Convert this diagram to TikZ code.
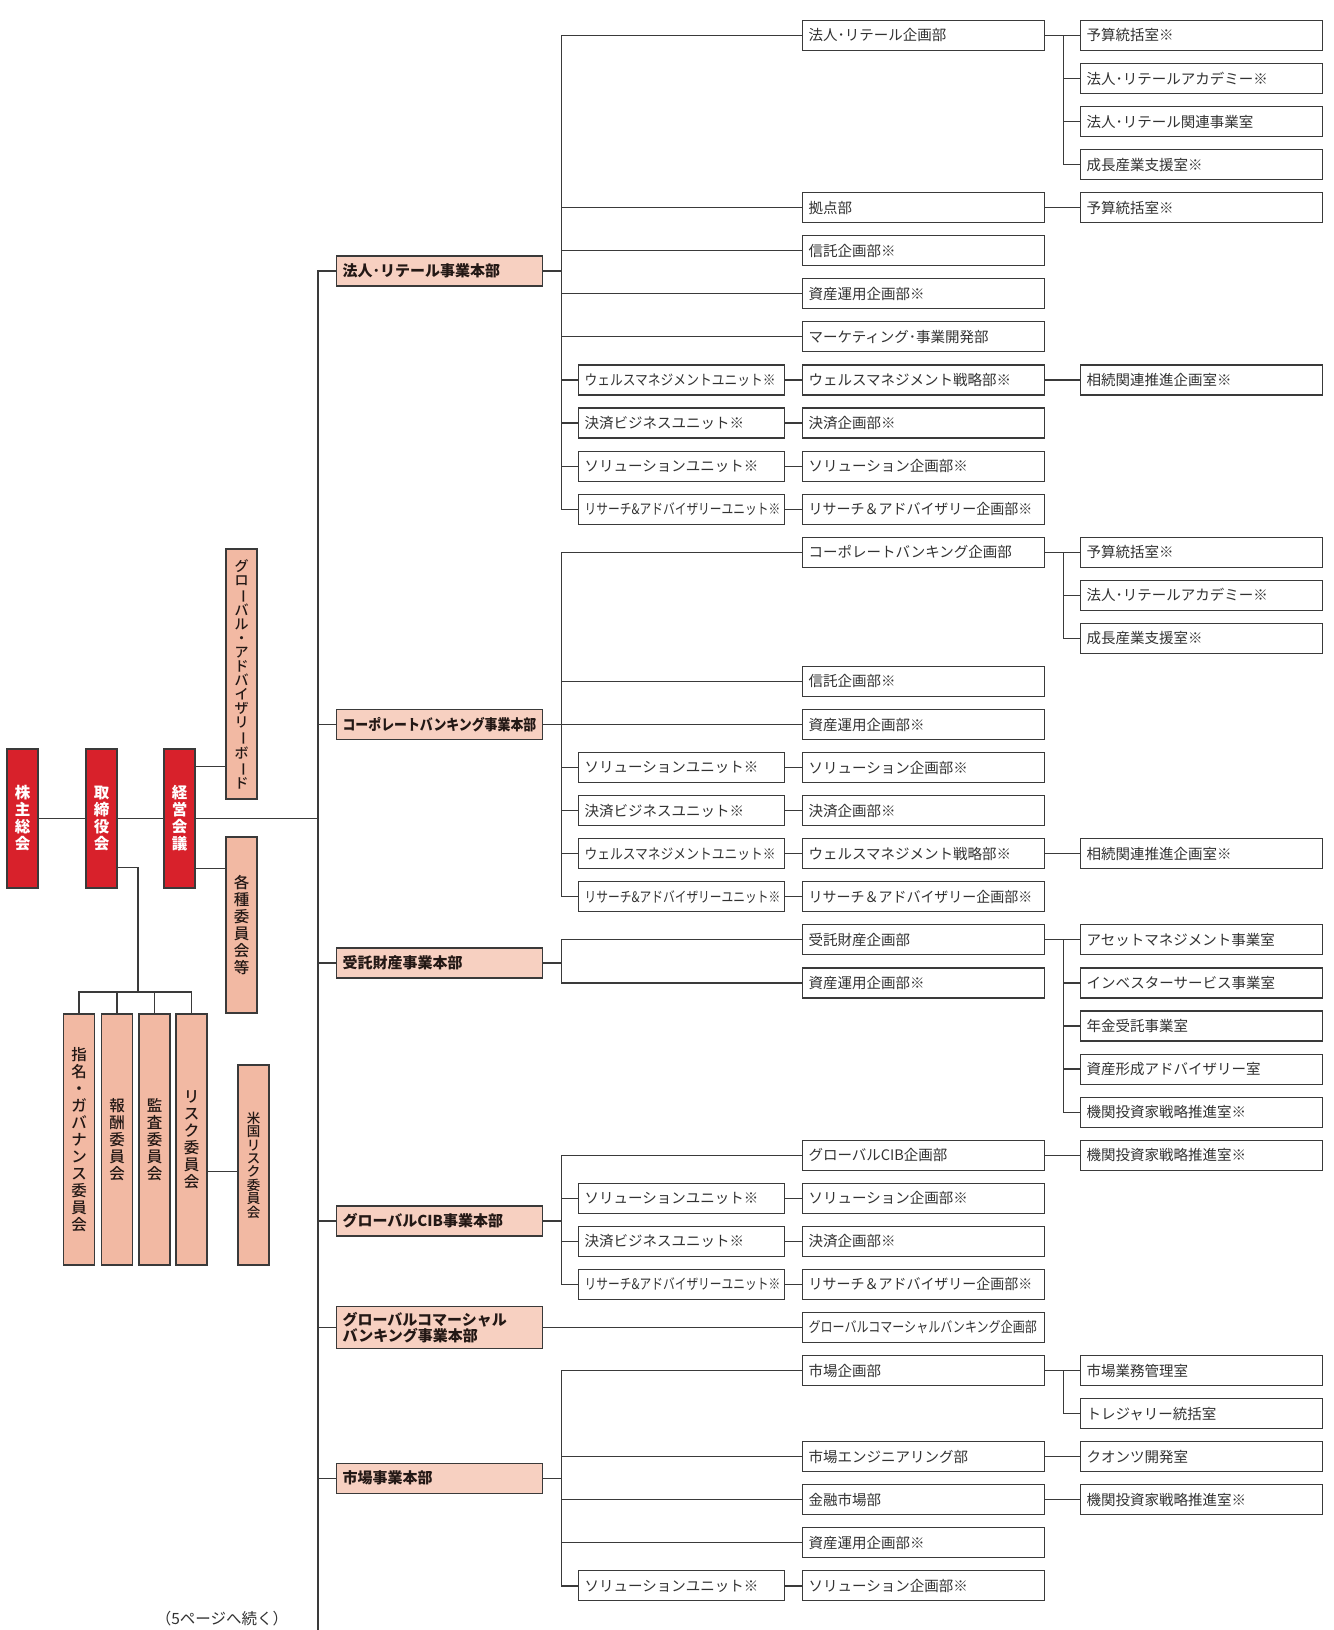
\documentclass[tikz,border=0pt]{standalone}
\usepackage{fontspec}
\usepackage{graphicx}
\setmainfont{Noto Sans CJK JP}
\newfontfamily\medfont{Noto Sans CJK JP Medium}
\usetikzlibrary{calc}
\definecolor{redbox}{RGB}{216,33,43}
\definecolor{salmon}{RGB}{242,185,163}
\definecolor{divfill}{RGB}{247,208,193}
\definecolor{linegray}{RGB}{58,58,58}
\definecolor{textgray}{RGB}{50,50,50}
\definecolor{inkdark}{RGB}{35,24,21}
% vertical position of a row of boxes
\newcommand\ry[1]{35.4+43.07*#1}
% prolonged sound mark in vertical writing
\newcommand\tatebar{\rotatebox[origin=c]{-90}{ー}}
\tikzset{
  conn/.style={draw=linegray, line width=1.2pt},
  orgbox/.style={draw=linegray, line width=1.1pt, fill=white, anchor=west,
    minimum height=30pt, inner xsep=6pt, inner ysep=0pt, align=left,
    text=textgray, font=\fontsize{14.5}{16}\selectfont},
  midbox/.style={orgbox, text width=230pt},
  rightbox/.style={orgbox, text width=230pt},
  unitbox/.style={orgbox, text width=194pt},
  divbox/.style={orgbox, fill=divfill, text width=194pt, text=inkdark,
    font=\bfseries\fontsize{15}{16.5}\selectfont},
  vbox/.style={draw=linegray, line width=1.1pt, minimum width=31pt, inner sep=0pt,
    align=center, font=\medfont\fontsize{15.5}{17}\selectfont},
  redv/.style={vbox, fill=redbox, text=white, minimum height=139pt,
    font=\bfseries\fontsize{15.5}{17}\selectfont},
  comv/.style={vbox, fill=salmon, text=inkdark},
}
\begin{document}
\begin{tikzpicture}[x=1pt, y=-1pt]
\useasboundingbox[fill=white] (0,0) rectangle (1333,1630);

% ---------- governance (vertical boxes) ----------
\node[redv] (kabu) at (22.5,818.5) {株\\主\\総\\会};
\node[redv] (tori) at (101.5,818.5) {取\\締\\役\\会};
\node[redv] (keiei) at (179.5,818.5) {経\\営\\会\\議};
\node[comv, minimum height=250pt, font=\medfont\fontsize{14}{14}\selectfont] (adv) at (241.5,674)
  {グ\\ロ\\\tatebar\\バ\\ル\\・\\ア\\ド\\バ\\イ\\ザ\\リ\\\tatebar\\ボ\\\tatebar\\ド};
\node[comv, minimum height=176pt] (kakushu) at (241.5,925) {各\\種\\委\\員\\会\\等};
\node[comv, minimum height=251pt] (c1) at (79,1139.5) {指\\名\\・\\ガ\\バ\\ナ\\ン\\ス\\委\\員\\会};
\node[comv, minimum height=251pt] (c2) at (117,1139.5) {報\\酬\\委\\員\\会};
\node[comv, minimum height=251pt] (c3) at (154.5,1139.5) {監\\査\\委\\員\\会};
\node[comv, minimum height=251pt] (c4) at (191.5,1139.5) {リ\\ス\\ク\\委\\員\\会};
\node[comv, minimum height=200pt, font=\medfont\fontsize{13.5}{13.4}\selectfont] (us) at (253.5,1165)
  {米\\国\\リ\\ス\\ク\\委\\員\\会};

% ---------- business divisions ----------
\node[divbox] (d1) at (336,271) {法人･リテール事業本部};
\node[divbox] (d2) at (336,{\ry{16}}) {\scalebox{0.86}[1]{コーポレートバンキング事業本部}};
\node[divbox] (d3) at (336,963) {受託財産事業本部};
\node[divbox] (d4) at (336,1221) {グローバルCIB事業本部};
\node[divbox, minimum height=42pt] (d5) at (336,{\ry{30}}) {グローバルコマーシャル\\バンキング事業本部};
\node[divbox] (d6) at (336,{\ry{33.5}}) {市場事業本部};

% ---------- units ----------
\node[unitbox] (u8)  at (578,{\ry{8}})  {\scalebox{0.88}[1]{ウェルスマネジメントユニット※}};
\node[unitbox] (u9)  at (578,{\ry{9}})  {決済ビジネスユニット※};
\node[unitbox] (u10) at (578,{\ry{10}}) {ソリューションユニット※};
\node[unitbox] (u11) at (578,{\ry{11}}) {\scalebox{0.81}[1]{リサーチ\&アドバイザリーユニット※}};
\node[unitbox] (u17) at (578,{\ry{17}}) {ソリューションユニット※};
\node[unitbox] (u18) at (578,{\ry{18}}) {決済ビジネスユニット※};
\node[unitbox] (u19) at (578,{\ry{19}}) {\scalebox{0.88}[1]{ウェルスマネジメントユニット※}};
\node[unitbox] (u20) at (578,{\ry{20}}) {\scalebox{0.81}[1]{リサーチ\&アドバイザリーユニット※}};
\node[unitbox] (u27) at (578,{\ry{27}}) {ソリューションユニット※};
\node[unitbox] (u28) at (578,{\ry{28}}) {決済ビジネスユニット※};
\node[unitbox] (u29) at (578,{\ry{29}}) {\scalebox{0.81}[1]{リサーチ\&アドバイザリーユニット※}};
\node[unitbox] (u36) at (578,{\ry{36}}) {ソリューションユニット※};

% ---------- departments ----------
\node[midbox] (m0)  at (802,{\ry{0}})  {法人･リテール企画部};
\node[midbox] (m4)  at (802,{\ry{4}})  {拠点部};
\node[midbox] (m5)  at (802,{\ry{5}})  {信託企画部※};
\node[midbox] (m6)  at (802,{\ry{6}})  {資産運用企画部※};
\node[midbox] (m7)  at (802,{\ry{7}})  {マーケティング･事業開発部};
\node[midbox] (m8)  at (802,{\ry{8}})  {ウェルスマネジメント戦略部※};
\node[midbox] (m9)  at (802,{\ry{9}})  {決済企画部※};
\node[midbox] (m10) at (802,{\ry{10}}) {ソリューション企画部※};
\node[midbox] (m11) at (802,{\ry{11}}) {\scalebox{0.965}[1]{リサーチ＆アドバイザリー企画部※}};
\node[midbox] (m12) at (802,{\ry{12}}) {コーポレートバンキング企画部};
\node[midbox] (m15) at (802,{\ry{15}}) {信託企画部※};
\node[midbox] (m16) at (802,{\ry{16}}) {資産運用企画部※};
\node[midbox] (m17) at (802,{\ry{17}}) {ソリューション企画部※};
\node[midbox] (m18) at (802,{\ry{18}}) {決済企画部※};
\node[midbox] (m19) at (802,{\ry{19}}) {ウェルスマネジメント戦略部※};
\node[midbox] (m20) at (802,{\ry{20}}) {\scalebox{0.965}[1]{リサーチ＆アドバイザリー企画部※}};
\node[midbox] (m21) at (802,{\ry{21}}) {受託財産企画部};
\node[midbox] (m22) at (802,{\ry{22}}) {資産運用企画部※};
\node[midbox] (m26) at (802,{\ry{26}}) {グローバルCIB企画部};
\node[midbox] (m27) at (802,{\ry{27}}) {ソリューション企画部※};
\node[midbox] (m28) at (802,{\ry{28}}) {決済企画部※};
\node[midbox] (m29) at (802,{\ry{29}}) {\scalebox{0.965}[1]{リサーチ＆アドバイザリー企画部※}};
\node[midbox] (m30) at (802,{\ry{30}}) {\scalebox{0.83}[1]{グローバルコマーシャルバンキング企画部}};
\node[midbox] (m31) at (802,{\ry{31}}) {市場企画部};
\node[midbox] (m33) at (802,{\ry{33}}) {市場エンジニアリング部};
\node[midbox] (m34) at (802,{\ry{34}}) {金融市場部};
\node[midbox] (m35) at (802,{\ry{35}}) {資産運用企画部※};
\node[midbox] (m36) at (802,{\ry{36}}) {ソリューション企画部※};

% ---------- offices ----------
\node[rightbox] (r0)  at (1080,{\ry{0}})  {予算統括室※};
\node[rightbox] (r1)  at (1080,{\ry{1}})  {法人･リテールアカデミー※};
\node[rightbox] (r2)  at (1080,{\ry{2}})  {法人･リテール関連事業室};
\node[rightbox] (r3)  at (1080,{\ry{3}})  {成長産業支援室※};
\node[rightbox] (r4)  at (1080,{\ry{4}})  {予算統括室※};
\node[rightbox] (r8)  at (1080,{\ry{8}})  {相続関連推進企画室※};
\node[rightbox] (r12) at (1080,{\ry{12}}) {予算統括室※};
\node[rightbox] (r13) at (1080,{\ry{13}}) {法人･リテールアカデミー※};
\node[rightbox] (r14) at (1080,{\ry{14}}) {成長産業支援室※};
\node[rightbox] (r19) at (1080,{\ry{19}}) {相続関連推進企画室※};
\node[rightbox] (r21) at (1080,{\ry{21}}) {アセットマネジメント事業室};
\node[rightbox] (r22) at (1080,{\ry{22}}) {インベスターサービス事業室};
\node[rightbox] (r23) at (1080,{\ry{23}}) {年金受託事業室};
\node[rightbox] (r24) at (1080,{\ry{24}}) {資産形成アドバイザリー室};
\node[rightbox] (r25) at (1080,{\ry{25}}) {機関投資家戦略推進室※};
\node[rightbox] (r26) at (1080,{\ry{26}}) {機関投資家戦略推進室※};
\node[rightbox] (r31) at (1080,{\ry{31}}) {市場業務管理室};
\node[rightbox] (r32) at (1080,{\ry{32}}) {トレジャリー統括室};
\node[rightbox] (r33) at (1080,{\ry{33}}) {クオンツ開発室};
\node[rightbox] (r34) at (1080,{\ry{34}}) {機関投資家戦略推進室※};

\node[font=\fontsize{15.5}{17}\selectfont, text=textgray] (cont) at (222,1619) {（5ページへ続く）};

% ---------- governance connectors ----------
\coordinate (tend) at (318,1630);
\coordinate (bar) at (138,992);
\draw[conn] (kabu.east) -- (tori.west);
\draw[conn] (tori.east) -- (keiei.west);
\draw[conn] (keiei.east) -- (keiei.east -| tend);
\draw[conn] ($(keiei.north east)!0.13!(keiei.south east)$) coordinate (ka) -- (ka -| adv.west);
\draw[conn] ($(keiei.north east)!0.856!(keiei.south east)$) coordinate (kb) -- (kb -| kakushu.west);
\draw[conn] ($(tori.north east)!0.85!(tori.south east)$) -| (bar);
\draw[conn] (c1.north) |- (bar -| c4.north) -- (c4.north);
\draw[conn] (c2.north) -- (c2.north |- bar);
\draw[conn] (c3.north) -- (c3.north |- bar);
\draw[conn] ($(c4.north east)!0.6255!(c4.south east)$) coordinate (kc) -- (kc -| us.west);

% ---------- trunk ----------
\draw[conn] (d1.west) -| (tend);
\foreach \d in {d2,d3,d4,d5,d6}
  \draw[conn] (\d.west) -- (\d.west -| tend);

% ---------- division subtrees ----------
\foreach \c in {m0,m4,m5,m6,m7,u8,u9,u10,u11}
  \draw[conn] (d1.east) -- ++(18,0) |- (\c.west);
\foreach \c in {m12,m15,m16,u17,u18,u19,u20}
  \draw[conn] (d2.east) -- ++(18,0) |- (\c.west);
\foreach \c in {m21,m22}
  \draw[conn] (d3.east) -- ++(18,0) |- (\c.west);
\foreach \c in {m26,u27,u28,u29}
  \draw[conn] (d4.east) -- ++(18,0) |- (\c.west);
\draw[conn] (d5.east) -- (m30.west);
\foreach \c in {m31,m33,m34,m35,u36}
  \draw[conn] (d6.east) -- ++(18,0) |- (\c.west);

% units to their departments
\foreach \k in {8,9,10,11,17,18,19,20,27,28,29,36}
  \draw[conn] (u\k.east) -- (m\k.west);

% ---------- departments to offices ----------
\foreach \c in {r0,r1,r2,r3}
  \draw[conn] (m0.east) -- ++(18,0) |- (\c.west);
\foreach \c in {r12,r13,r14}
  \draw[conn] (m12.east) -- ++(18,0) |- (\c.west);
\foreach \c in {r21,r22,r23,r24,r25}
  \draw[conn] (m21.east) -- ++(18,0) |- (\c.west);
\foreach \c in {r31,r32}
  \draw[conn] (m31.east) -- ++(18,0) |- (\c.west);
\foreach \k in {4,8,19,26,33,34}
  \draw[conn] (m\k.east) -- (r\k.west);
\end{tikzpicture}
\end{document}
